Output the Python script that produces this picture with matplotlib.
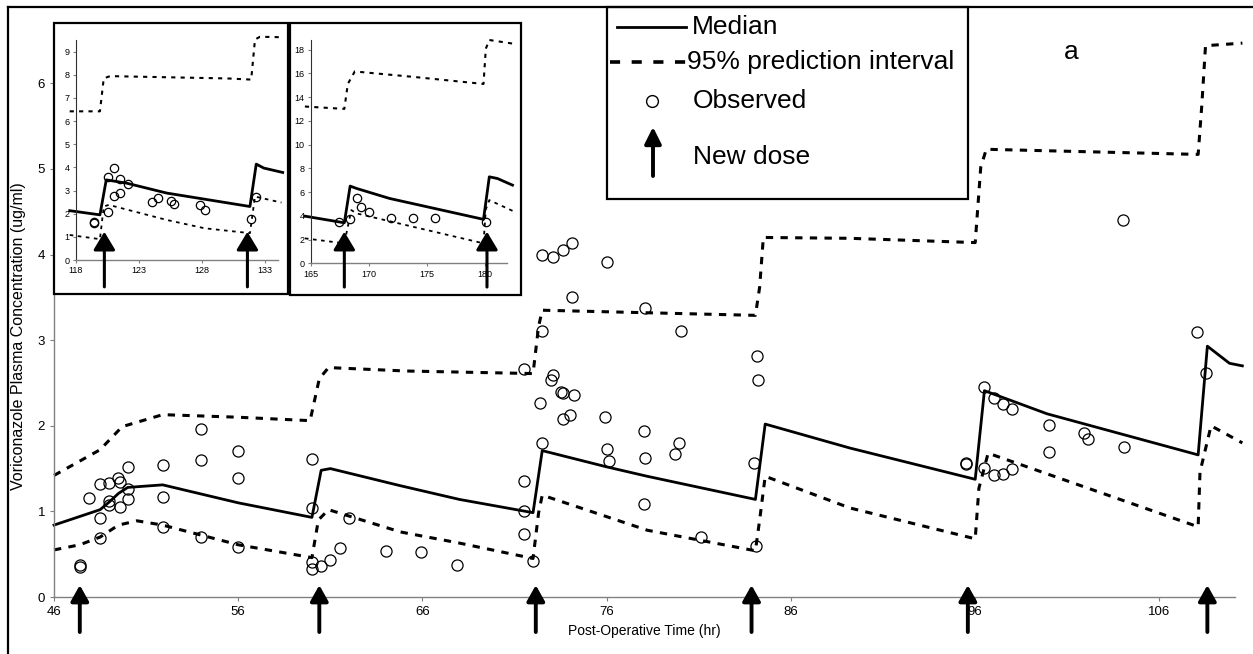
import matplotlib
matplotlib.use("Agg")
import matplotlib.pyplot as plt
from matplotlib.patches import Rectangle
from matplotlib.lines import Line2D

plt.rcParams['font.family'] = ['Liberation Sans', 'DejaVu Sans']

# main panel: post-operative hours 46-110
median_t = [46, 48.5, 49.0, 49.5, 50.0, 51.9, 56, 60.0, 60.5, 61.0, 64.8, 68.0, 72.0, 72.5,
            76.0, 78.2, 84.07, 84.6, 89.2, 96.0, 96.5, 99.9, 108.1, 108.6, 109.8, 110.5]
median_c = [0.84, 1.02, 1.11, 1.21, 1.28, 1.31, 1.10, 0.93, 1.48, 1.50, 1.30, 1.14, 0.985, 1.71,
            1.52, 1.41, 1.14, 2.02, 1.74, 1.375, 2.41, 2.14, 1.66, 2.93, 2.73, 2.70]

upper_t = [46, 48.5, 49.7, 51.9, 56, 59.9, 60.4, 60.9, 65.1, 72.0, 72.3, 72.5, 84.07, 84.3,
           84.5, 89.2, 96.0, 96.3, 96.6, 108.1, 108.3, 108.5, 110.5]
upper_c = [1.42, 1.72, 1.99, 2.13, 2.10, 2.06, 2.55, 2.68, 2.64, 2.61, 3.16, 3.35, 3.29, 3.62,
           4.20, 4.19, 4.14, 5.02, 5.23, 5.17, 5.75, 6.44, 6.47]

lower_t = [46, 47.4, 48.5, 49.5, 50.5, 51.9, 56, 60.0, 60.35, 60.9, 64.8, 68.0, 72.0, 72.3,
           72.5, 78.2, 84.07, 84.3, 84.6, 89.2, 96.0, 96.2, 96.7, 108.1, 108.2, 108.8, 110.5]
lower_c = [0.55, 0.61, 0.70, 0.84, 0.89, 0.84, 0.61, 0.46, 0.90, 1.02, 0.76, 0.63, 0.45, 0.98,
           1.19, 0.78, 0.54, 0.90, 1.41, 1.04, 0.68, 1.27, 1.68, 0.82, 1.46, 2.00, 1.80]

obs_t = [47.4, 47.4, 47.9, 48.5, 48.5, 48.5, 49.0, 49.0, 49.0, 49.5, 49.6, 49.6, 50.0, 50.0, 50.0,
         51.9, 51.9, 51.9, 54.0, 54.0, 54.0, 56.0, 56.0, 56.0, 60.0, 60.0, 60.0, 60.0, 60.5,
         61.0, 61.5, 62.0, 64.0, 65.9, 67.9, 71.5, 71.5, 71.5, 71.5, 72.0, 72.4, 72.5, 72.5,
         72.5, 73.1, 73.6, 74.1, 74.1, 73.1, 73.0, 73.5, 73.6, 74.2, 74.0, 73.6, 76.0, 75.9,
         76.0, 76.1, 78.1, 78.0, 78.1, 78.0, 80.05, 79.9, 79.7, 81.1, 84.15, 84.2, 84.0, 84.1,
         104.0, 108.05, 108.5, 96.5, 97.0, 97.5, 98.0, 100.0, 100.0, 101.9, 102.1, 104.1,
         95.5, 95.5, 96.5, 97.0, 97.5, 98.0]
obs_c = [0.37, 0.35, 1.16, 1.32, 0.92, 0.69, 1.33, 1.12, 1.07, 1.39, 1.34, 1.05, 1.52, 1.26, 1.15,
         1.54, 1.17, 0.82, 1.96, 1.60, 0.70, 1.71, 1.39, 0.58, 1.61, 1.04, 0.41, 0.33, 0.36,
         0.43, 0.57, 0.92, 0.54, 0.53, 0.37, 2.66, 1.36, 1.00, 0.74, 0.42, 2.27, 3.11, 1.80,
         4.00, 3.97, 4.05, 4.13, 3.51, 2.59, 2.54, 2.40, 2.38, 2.36, 2.13, 2.08, 3.91, 2.10,
         1.73, 1.59, 3.38, 1.94, 1.62, 1.09, 3.11, 1.80, 1.67, 0.70, 2.82, 2.54, 1.57, 0.59,
         4.40, 3.09, 2.62, 2.45, 2.32, 2.25, 2.20, 2.01, 1.69, 1.92, 1.84, 1.75,
         1.57, 1.55, 1.51, 1.42, 1.44, 1.50]

dose_t = [47.4, 60.4, 72.15, 83.86, 95.6, 108.6]

# inset 1: hours 118-134
in1_med_t = [117.5, 119.9, 120.4, 122.0, 125.2, 131.8, 132.3, 132.9, 134.4]
in1_med_c = [2.13, 1.95, 3.46, 3.32, 2.89, 2.31, 4.14, 3.97, 3.78]
in1_up_t = [117.5, 119.9, 120.2, 120.7, 130.0, 131.9, 132.2, 132.6, 134.3]
in1_up_c = [6.42, 6.42, 7.84, 7.94, 7.84, 7.79, 9.52, 9.64, 9.62]
in1_lo_t = [117.5, 119.9, 120.2, 120.6, 125.2, 128.2, 131.8, 132.2, 134.3]
in1_lo_c = [1.08, 0.90, 2.31, 2.38, 1.73, 1.37, 1.16, 2.74, 2.48]
in1_obs_t = [119.4, 119.4, 120.5, 120.5, 121.0, 121.0, 121.5, 121.5, 122.1, 124.0, 124.5,
             125.5, 125.8, 127.8, 128.2, 131.9, 132.3]
in1_obs_c = [1.62, 1.60, 2.06, 3.58, 3.97, 2.78, 3.51, 2.91, 3.28, 2.50, 2.67,
             2.55, 2.41, 2.38, 2.16, 1.77, 2.74]
in1_dose = [120.25, 131.6]

# inset 2: hours 165-182
in2_med_t = [164.5, 167.9, 168.4, 168.96, 171.8, 179.9, 180.4, 181.1, 182.4]
in2_med_c = [3.97, 3.41, 6.50, 6.30, 5.46, 3.70, 7.28, 7.14, 6.58]
in2_up_t = [164.5, 167.9, 168.2, 168.8, 173.8, 179.9, 180.1, 180.4, 182.4]
in2_up_c = [13.2, 13.0, 15.1, 16.15, 15.7, 15.1, 18.07, 18.8, 18.5]
in2_lo_t = [164.5, 167.9, 168.5, 168.96, 173.8, 179.9, 180.1, 180.4, 182.4]
in2_lo_c = [2.10, 1.68, 4.48, 4.20, 3.08, 1.68, 4.54, 5.32, 4.42]
in2_obs_t = [167.4, 168.4, 168.96, 169.3, 170.0, 171.9, 173.8, 175.7, 180.1]
in2_obs_c = [3.50, 3.70, 5.51, 4.70, 4.34, 3.83, 3.85, 3.78, 3.44]
in2_dose = [167.9, 180.2]

W, H = 1253, 654
fig = plt.figure(figsize=(W / 100, H / 100), dpi=100)


def px_box(x0, y0, x1, y1):
    # pixel box (top-left origin) -> figure fraction [left, bottom, width, height]
    return [x0 / W, (H - y1) / H, (x1 - x0) / W, (y1 - y0) / H]


grey = '#808080'

ax = fig.add_axes(px_box(54, 32, 1235, 597), zorder=1)
ax.plot(median_t, median_c, color='black', lw=2, clip_on=False)
ax.plot(upper_t, upper_c, color='black', lw=2.2, ls=(0, (2.4, 2.4)), clip_on=False)
ax.plot(lower_t, lower_c, color='black', lw=2.2, ls=(0, (2.4, 2.4)), clip_on=False)
ax.plot(obs_t, obs_c, 'o', ms=8, mfc='none', mec='black', mew=0.9, clip_on=False)
for t in dose_t:
    ax.annotate('', xy=(t, 0.021), xytext=(t, -0.062), xycoords=ax.get_xaxis_transform(),
                annotation_clip=False,
                arrowprops=dict(arrowstyle='-|>,head_length=0.48,head_width=0.27',
                                mutation_scale=20, lw=2.8, color='black',
                                shrinkA=0, shrinkB=0))
ax.set_xlim(46, 110.1)
ax.set_ylim(0, 6.6)
ax.set_xticks([46, 56, 66, 76, 86, 96, 106])
ax.set_yticks([0, 1, 2, 3, 4, 5, 6])
for s in ['top', 'right']:
    ax.spines[s].set_visible(False)
for s in ['left', 'bottom']:
    ax.spines[s].set_color(grey)
    ax.spines[s].set_linewidth(1.0)
ax.tick_params(colors=grey, labelcolor='black', length=3, labelsize=9.5)
ax.set_xlabel('Post-Operative Time (hr)', fontsize=10)
ax.set_ylabel('Voriconazole Plasma Concentration (ug/ml)', fontsize=11.5)
ax.xaxis.set_label_coords(0.5, -0.047)
ax.yaxis.set_label_coords(-0.0235, 0.462)

# white framed boxes behind the two insets
for box in [(54.3, 22.7, 288.3, 294), (290, 22.7, 520.7, 295)]:
    fig.add_artist(Rectangle((box[0] / W, (H - box[3]) / H), (box[2] - box[0]) / W,
                             (box[3] - box[1]) / H, transform=fig.transFigure,
                             facecolor='white', edgecolor='black', lw=1.6, zorder=2))


def draw_inset(rect, med, up, lo, obs, doses, xlim, ylim, xticks, yticks, tip, tail):
    ia = fig.add_axes(rect, zorder=3)
    ia.patch.set_visible(False)
    ia.plot(med[0], med[1], color='black', lw=2, clip_on=False)
    ia.plot(up[0], up[1], color='black', lw=1.5, ls=(0, (2, 2.5)), clip_on=False)
    ia.plot(lo[0], lo[1], color='black', lw=1.3, ls=(0, (2, 2.5)), clip_on=False)
    ia.plot(obs[0], obs[1], 'o', ms=6, mfc='none', mec='black', mew=0.9, clip_on=False)
    for t in doses:
        ia.annotate('', xy=(t, tip), xytext=(t, tail), annotation_clip=False,
                    arrowprops=dict(arrowstyle='-|>,head_length=0.55,head_width=0.33',
                                    mutation_scale=20, lw=2.2, color='black',
                                    shrinkA=0, shrinkB=0))
    ia.set_xlim(*xlim)
    ia.set_ylim(*ylim)
    ia.set_xticks(xticks)
    ia.set_yticks(yticks)
    for s in ['top', 'right']:
        ia.spines[s].set_visible(False)
    ia.spines['left'].set_color('#303030')
    ia.spines['bottom'].set_color(grey)
    ia.spines['left'].set_linewidth(0.8)
    ia.spines['bottom'].set_linewidth(1.0)
    ia.tick_params(colors=grey, labelcolor='black', length=2.5, labelsize=6.5, pad=2)
    return ia


draw_inset(px_box(76, 40, 278.3, 260),
           (in1_med_t, in1_med_c), (in1_up_t, in1_up_c), (in1_lo_t, in1_lo_c),
           (in1_obs_t, in1_obs_c), in1_dose, (118, 134.05), (0, 9.5),
           [118, 123, 128, 133], list(range(10)), 1.22, -1.16)
draw_inset(px_box(310.7, 40, 506.7, 263.3),
           (in2_med_t, in2_med_c), (in2_up_t, in2_up_c), (in2_lo_t, in2_lo_c),
           (in2_obs_t, in2_obs_c), in2_dose, (165, 181.9), (0, 18.8),
           [165, 170, 175, 180], list(range(0, 19, 2)), 2.66, -2.0)

# overlay in pixel coordinates for the frame, legend and panel letter
ov = fig.add_axes([0, 0, 1, 1], zorder=4)
ov.set_xlim(0, W)
ov.set_ylim(H, 0)
ov.axis('off')
ov.patch.set_visible(False)
ov.add_line(Line2D([7.5, 7.5], [6.5, H + 5], color='black', lw=1.6))
ov.add_line(Line2D([7.5, W + 5], [6.5, 6.5], color='black', lw=1.6))
ov.add_patch(Rectangle((607, 6.5), 361, 192.5, facecolor='white', edgecolor='black', lw=1.6))
ov.add_line(Line2D([617, 686], [26.7, 26.7], color='black', lw=2))
ov.add_line(Line2D([610, 686], [61.7, 61.7], color='black', lw=2.6, ls=(0, (2.8, 3.2))))
ov.plot([651.7], [101], 'o', ms=8.5, mfc='none', mec='black', mew=1.0)
ov.annotate('', xy=(653, 127), xytext=(653, 176),
            arrowprops=dict(arrowstyle='-|>,head_length=0.5,head_width=0.25',
                            mutation_scale=20, lw=2.8, color='black', shrinkA=0, shrinkB=0))
ov.text(692, 27, 'Median', fontsize=19, va='center', ha='left')
ov.text(687, 62, '95% prediction interval', fontsize=19, va='center', ha='left')
ov.text(693, 101, 'Observed', fontsize=19, va='center', ha='left')
ov.text(693, 157, 'New dose', fontsize=19, va='center', ha='left')
ov.text(1071.7, 52, 'a', fontsize=19, va='center', ha='center')

fig.savefig('out.png', dpi=100)
